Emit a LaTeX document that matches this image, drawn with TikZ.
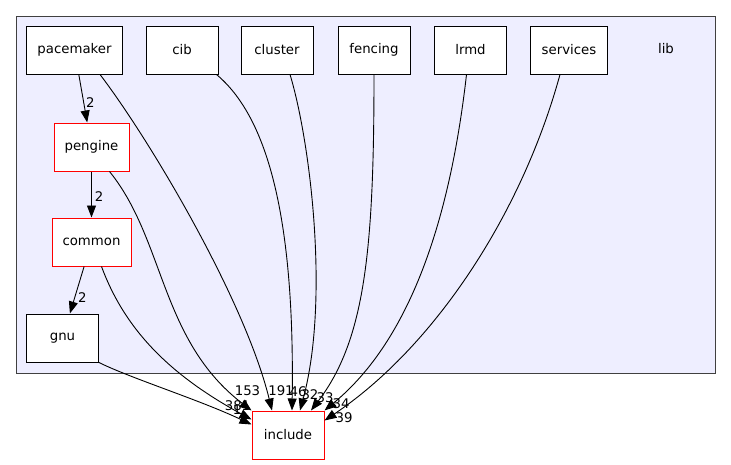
\documentclass[tikz,border=0pt]{standalone}
\usepackage{fontspec}
\setmainfont{DejaVu Sans}
\usetikzlibrary{arrows.meta}
\definecolor{clusterfill}{HTML}{EEEEFF}
\definecolor{clusterline}{HTML}{404040}
\begin{document}
\begin{tikzpicture}[x=1pt, y=-1pt,
    dirbox/.style={
        rectangle, draw=black, fill=white, line width=1pt,
        minimum width=72pt, minimum height=48pt, inner sep=0pt,
        font=\fontsize{13.3}{15}\selectfont},
    redbox/.style={dirbox, draw=red},
    lbl/.style={font=\fontsize{13.3}{15}\selectfont, inner sep=0pt},
    dep/.style={-{Triangle[length=12pt, width=9pt]}, line width=0.9pt, color=black}]
  \useasboundingbox (0,0) rectangle (731,464);
  % Fondo del directorio lib
  \draw[fill=clusterfill, draw=clusterline, line width=1pt] (16,16) rectangle (715,373);
  % Nodos principales
  \node[dirbox, minimum width=96pt] (pacemaker) at (74.5,50)  {pacemaker};
  \node[dirbox]                     (cib)       at (182,50)   {cib};
  \node[dirbox]                     (cluster)   at (277,50)   {cluster};
  \node[dirbox]                     (fencing)   at (374,50)   {fencing};
  \node[dirbox]                     (lrmd)      at (470.5,50) {lrmd};
  \node[dirbox, minimum width=77pt] (services)  at (569,50)   {services};
  \node[lbl]                        (libname)   at (666,49)   {lib};
  \node[redbox, minimum width=75pt] (pengine)   at (91.5,147) {pengine};
  \node[redbox, minimum width=79pt] (common)    at (91.5,242) {common};
  \node[dirbox]                     (gnu)       at (62.5,338) {gnu};
  \node[redbox]                     (include)   at (288,435)  {include};
  % Flechas internas
  \draw[dep] (pacemaker) -- (pengine) node[lbl, right=2pt, pos=0.58] (lpen) {2};
  \draw[dep] (pengine) -- (common) node[lbl, right=3pt, pos=0.55] (lcom) {2};
  \draw[dep] (common) -- (gnu) node[lbl, right=3pt, pos=0.66] (lgnu) {2};
  % Flechas hacia include
  \draw[dep] ([xshift=25.5pt]pacemaker.south) .. controls (150,140) and (245,300) .. ([xshift=-16pt]include.north);
  \draw[dep] ([xshift=-2pt]cib.south east) .. controls (265,115) and (295,210) .. ([xshift=4pt]include.north);
  \draw[dep] ([xshift=13pt]cluster.south) .. controls (310,140) and (330,300) .. ([xshift=12pt]include.north);
  \draw[dep] (fencing.south) .. controls (374,250) and (365,340) .. ([xshift=23pt]include.north);
  \draw[dep] ([xshift=-4pt]lrmd.south) .. controls (450,220) and (410,340) .. (include.north east);
  \draw[dep] ([xshift=-9pt]services.south) .. controls (520,220) and (430,350) .. ([yshift=-10pt]include.north east);
  \draw[dep] ([xshift=18pt]pengine.south) .. controls (165,240) and (160,340) .. (include.north west);
  \draw[dep] ([xshift=10pt]common.south) .. controls (125,330) and (170,375) .. ([yshift=-9pt]include.north west);
  \draw[dep] (gnu.south east) .. controls (130,378) and (200,400) .. ([yshift=-14pt]include.north west);
  % Etiquetas de dependencias
  \node[lbl] (l153) at (247.5,391) {153};
  \node[lbl] (l191) at (281,391)   {191};
  \node[lbl] (l46)  at (298,392)   {46};
  \node[lbl] (l32)  at (310,395)   {32};
  \node[lbl] (l33)  at (325,398)   {33};
  \node[lbl] (l34)  at (341,404)   {34};
  \node[lbl] (l39)  at (344,418)   {39};
  \node[lbl] (l381) at (237.5,406) {381};
  \node[lbl] (l1)   at (237,410)   {1};
\end{tikzpicture}
\end{document}
